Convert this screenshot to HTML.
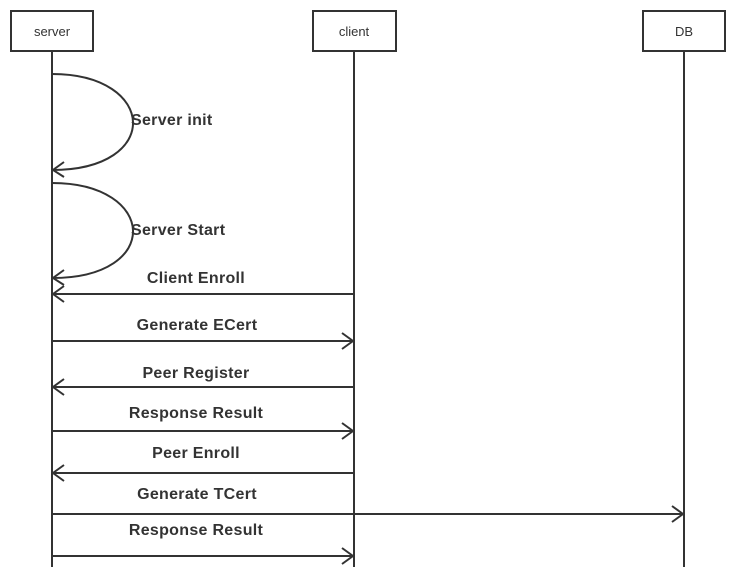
<html><body style="margin:0;background:#fff">
<svg width="736" height="579" viewBox="0 0 736 579" xmlns="http://www.w3.org/2000/svg" font-family="Liberation Sans, sans-serif" fill="none" stroke="#333" stroke-width="2">
<rect x="11" y="11" width="82" height="40" fill="#fff"/>
<rect x="313" y="11" width="83" height="40" fill="#fff"/>
<rect x="643" y="11" width="82" height="40" fill="#fff"/>
<g stroke="none" fill="#333" font-size="13" text-anchor="middle">
<text x="52" y="36">server</text><text x="354" y="36">client</text><text x="684" y="36">DB</text>
</g>
<line x1="52" y1="51" x2="52" y2="567"/>
<line x1="354" y1="51" x2="354" y2="567"/>
<line x1="684" y1="51" x2="684" y2="567"/>
<path d="M52 74 C157 74 163 170 52 170"/>
<path d="M64 162 L53 170 L64 177"/>
<path d="M52 183 C157 183 163 278 52 278"/>
<path d="M64 270 L53 278 L64 285"/>
<line x1="52" y1="294" x2="354" y2="294"/><path d="M64 286 L53 294 L64 302"/>
<line x1="52" y1="341" x2="354" y2="341"/><path d="M342 333 L353 341 L342 349"/>
<line x1="52" y1="387" x2="354" y2="387"/><path d="M64 379 L53 387 L64 395"/>
<line x1="52" y1="431" x2="354" y2="431"/><path d="M342 423 L353 431 L342 439"/>
<line x1="52" y1="473" x2="354" y2="473"/><path d="M64 465 L53 473 L64 481"/>
<line x1="52" y1="514" x2="684" y2="514"/><path d="M672 506 L683 514 L672 522"/>
<line x1="52" y1="556" x2="354" y2="556"/><path d="M342 548 L353 556 L342 564"/>
<g stroke="none" fill="#333" font-size="16" font-weight="bold" letter-spacing="0.3">
<text x="131" y="125">Server init</text>
<text x="131" y="235">Server Start</text>
<g text-anchor="middle">
<text x="196" y="283">Client Enroll</text>
<text x="197" y="330">Generate ECert</text>
<text x="196" y="378">Peer Register</text>
<text x="196" y="418">Response Result</text>
<text x="196" y="458">Peer Enroll</text>
<text x="197" y="499">Generate TCert</text>
<text x="196" y="535">Response Result</text>
</g></g>
</svg>
</body></html>
